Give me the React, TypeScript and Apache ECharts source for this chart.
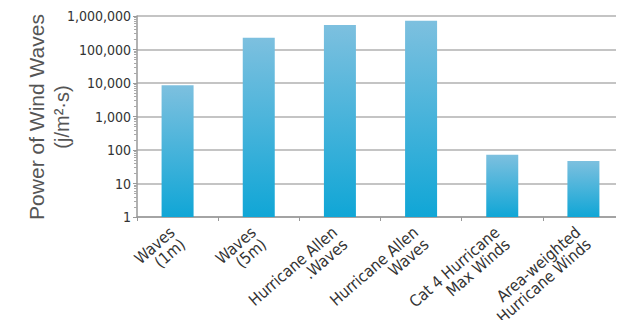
import React, { useEffect, useRef } from "react";
import * as echarts from "echarts";

const categories = [
  "Waves\n(1m)",
  "Waves\n(5m)",
  "Hurricane Allen\n.Waves",
  "Hurricane Allen\nWaves",
  "Cat 4 Hurricane\nMax Winds",
  "Area-weighted\nHurricane Winds",
];
const values = [8500, 225000, 540000, 720000, 72, 47];
const yTickLabels: Record<number, string> = {
  1: "1",
  10: "10",
  100: "100",
  1000: "1,000",
  10000: "10,000",
  100000: "100,000",
  1000000: "1,000,000",
};

const condensed = "'DejaVu Sans Condensed', 'Roboto', sans-serif";

export default function App() {
  const ref = useRef<HTMLDivElement>(null);
  useEffect(() => {
    if (!ref.current) return;
    const chart = echarts.init(ref.current, null, { renderer: "svg" });
    chart.setOption({
      animation: false,
      backgroundColor: "#ffffff",
      grid: { left: 137, top: 16, width: 489, height: 201, containLabel: false },
      graphic: [
        {
          type: "text",
          x: 36,
          y: 117,
          rotation: Math.PI / 2,
          style: {
            text: "Power of Wind Waves",
            fontSize: 21,
            fontFamily: "Liberation Sans",
            fill: "#555555",
            textAlign: "center",
            textVerticalAlign: "middle",
          },
        },
        {
          type: "text",
          x: 62,
          y: 117,
          rotation: Math.PI / 2,
          style: {
            text: "(j/m²·s)",
            fontSize: 20,
            fontFamily: "Liberation Sans",
            fill: "#555555",
            textAlign: "center",
            textVerticalAlign: "middle",
          },
        },
      ],
      xAxis: {
        type: "category",
        data: categories,
        axisLine: { show: true, lineStyle: { color: "#999999", width: 1.5 } },
        axisTick: { show: true, alignWithLabel: false, length: 4, lineStyle: { color: "#999999" } },
        axisLabel: {
          rotate: 41,
          interval: 0,
          fontFamily: condensed,
          fontSize: 16,
          color: "#333333",
          lineHeight: 16,
          margin: 19,
        },
        splitLine: { show: false },
      },
      yAxis: {
        type: "log",
        logBase: 10,
        min: 1,
        max: 1000000,
        axisLine: { show: true, lineStyle: { color: "#999999", width: 1.5 } },
        axisTick: { show: true, length: 4, lineStyle: { color: "#999999" } },
        minorTick: { show: true, splitNumber: 9, length: 3, lineStyle: { color: "#aaaaaa" } },
        axisLabel: {
          fontFamily: condensed,
          fontSize: 14,
          color: "#333333",
          margin: 6,
          formatter: (v: number) => yTickLabels[Math.round(v)] ?? String(v),
        },
        splitLine: { show: true, lineStyle: { color: "#b0b0b0", width: 1.5 } },
      },
      series: [
        {
          type: "bar",
          data: values,
          barWidth: 32,
          itemStyle: {
            color: new echarts.graphic.LinearGradient(0, 0, 0, 1, [
              { offset: 0, color: "#7dc0df" },
              { offset: 1, color: "#10a6d6" },
            ]),
          },
        },
      ],
    });
    return () => chart.dispose();
  }, []);
  return <div ref={ref} style={{ width: 624, height: 328, margin: -8 }} />;
}
